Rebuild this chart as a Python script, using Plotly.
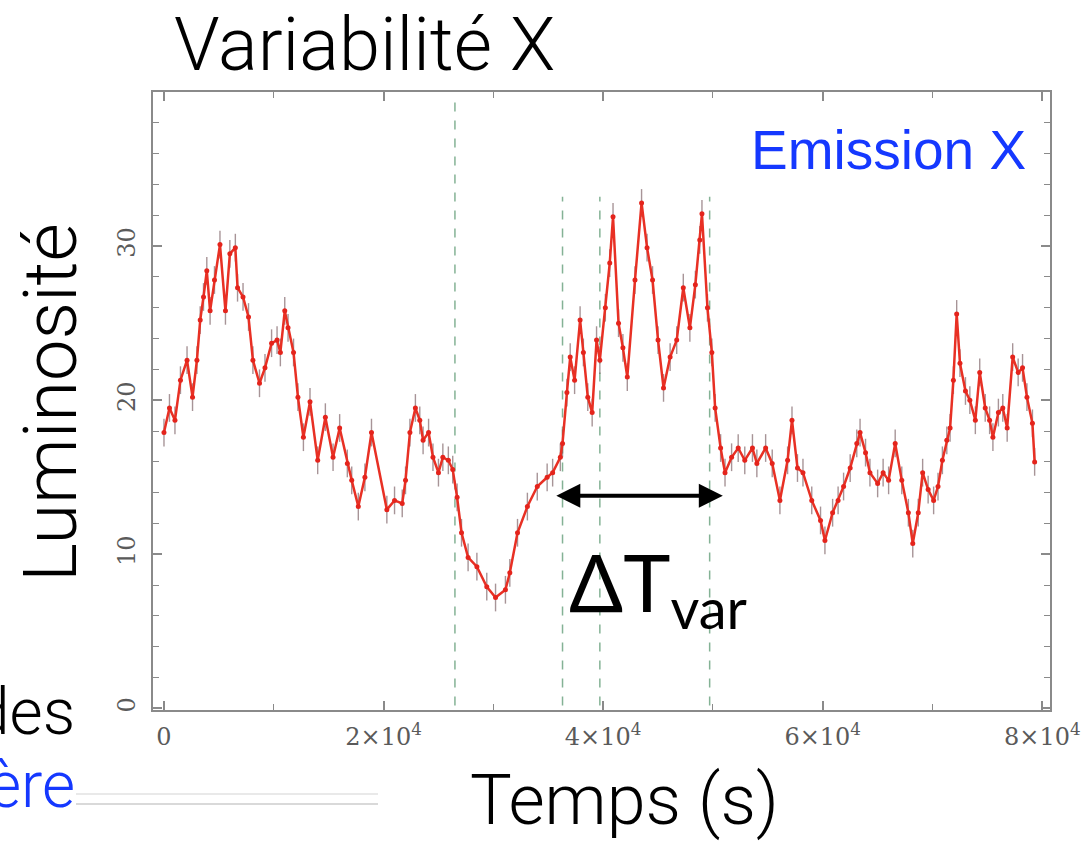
import plotly.graph_objects as go

# ---------------- data ----------------
time_s = [0, 500, 1000, 1500, 2100, 2600, 3000, 3300, 3600, 3900, 4200, 4600, 5100, 5600,
          6000, 6500, 6700, 7200, 7700, 8100, 8700, 9200, 9800, 10300, 10600, 11000, 11300,
          11800, 12200, 12700, 13300, 14000, 14700, 15400, 16000, 16700, 17100, 17700, 18300,
          18900, 20300, 21000, 21700, 22000, 22400, 22900, 23300, 23600, 24100, 24500, 25000,
          25400, 25900, 26300, 26700, 27100, 27700, 28500, 29400, 30200, 31100, 31500, 32200,
          33100, 34000, 34900, 35400, 36100, 36300, 36700, 37000, 37400, 37900, 38200, 38600,
          39000, 39400, 39700, 40200, 40600, 40900, 41400, 41800, 42200, 42900, 43500, 44000,
          44500, 45000, 45500, 46100, 46700, 47300, 47900, 48400, 48800, 49000, 49500, 49900,
          50200, 50700, 51100, 51700, 52300, 52900, 53600, 54000, 54800, 55400, 56100, 56800,
          57200, 57700, 58200, 59000, 59800, 60200, 60900, 61400, 61900, 62500, 63100, 63400,
          63900, 64300, 65000, 65500, 66000, 66600, 67200, 67800, 68200, 68700, 69100, 69600,
          70100, 70500, 70900, 71300, 71600, 71900, 72200, 72500, 73000, 73400, 73900, 74300,
          74800, 75200, 75500, 76000, 76400, 76800, 77300, 77800, 78200, 78600, 79100, 79300]
luminosity = [17.9, 19.5, 18.7, 21.3, 22.6, 20.2, 22.6, 25.2, 26.7, 28.4, 25.8, 27.8, 30.1, 25.8,
              29.5, 29.9, 27.3, 26.7, 25.4, 22.6, 21.1, 22.1, 23.7, 23.9, 23.1, 25.8, 24.7,
              23.1, 20.2, 17.6, 19.9, 16.1, 18.9, 16.3, 18.2, 15.9, 14.8, 13.1, 15.0,
              17.9, 12.9, 13.5, 13.3, 14.8, 17.9, 19.5, 18.7, 17.4, 17.9, 16.3, 15.3,
              16.3, 16.1, 15.5, 13.7, 11.4, 9.8, 9.2, 7.9, 7.2, 7.7, 8.8, 11.4,
              13.1, 14.4, 15.0, 15.3, 16.3, 17.2, 20.5, 22.8, 21.3, 25.2, 23.1, 20.2,
              19.2, 23.9, 22.6, 26.0, 28.9, 31.9, 25.0, 23.4, 21.5, 27.8, 32.8, 29.9,
              27.8, 23.9, 20.8, 22.8, 23.9, 27.3, 24.7, 27.5, 30.4, 32.1, 26.0, 23.1,
              19.5, 16.9, 15.3, 16.3, 16.9, 16.1, 16.9, 15.9, 16.9, 15.9, 13.5, 16.1,
              18.7, 15.6, 15.3, 13.5, 12.2, 10.9, 12.7, 13.5, 14.4, 15.6, 17.2, 17.9,
              16.6, 15.3, 14.6, 15.3, 14.8, 17.2, 14.8, 12.7, 10.7, 12.7, 15.3, 14.2,
              13.5, 14.4, 16.1, 17.4, 18.2, 21.3, 25.6, 22.4, 20.6, 20.0, 18.7, 21.8,
              19.5, 18.7, 17.6, 19.2, 19.5, 18.2, 22.8, 21.8, 22.1, 20.2, 18.5, 16.0]

vline_times = [26500, 36300, 39700, 49700]
vline_tops = [39.5, 33.2, 33.2, 33.2]

arrow_start, arrow_end, arrow_level = 35600, 50900, 13.8

x_tickvals = [0, 20000, 40000, 60000, 80000]
x_ticktext = ["0", "2×10<sup>4</sup>", "4×10<sup>4</sup>", "6×10<sup>4</sup>", "8×10<sup>4</sup>"]
y_tickvals = [0, 10, 20, 30]
y_ticktext = ["0", "10", "20", "30"]

# ---------------- layout helpers ----------------
W, H = 1082, 843
PL, PR, PT, PB = 153, 1050, 92, 710


def px(x):
    return (x - PL) / (PR - PL)


def py(y):
    return (PB - y) / (PB - PT)


LIGHT = dict(family="Roboto, 'Helvetica Neue', Arial, sans-serif", weight=300, color="black")
XTICKFONT = dict(family="DejaVu Serif, serif", size=24, color="#5a5a5a")
YTICKFONT = dict(family="DejaVu Serif, serif", size=24, color="#5a5a5a")
AXCOL = "#8a8a8a"

fig = go.Figure()

fig.add_trace(go.Scatter(
    x=time_s, y=luminosity, mode="lines+markers",
    line=dict(color="rgb(232,48,36)", width=2.5),
    marker=dict(color="rgb(228,36,28)", size=5),
    error_y=dict(type="constant", value=0.9, color="rgba(120,90,95,0.65)", thickness=1.4, width=0),
    showlegend=False, hoverinfo="skip",
))

for t, top in zip(vline_times, vline_tops):
    fig.add_shape(type="line", xref="x", yref="y", x0=t, x1=t, y0=0.2, y1=top,
                  line=dict(color="rgba(110,165,130,0.85)", width=1.5, dash="dash"), layer="below")

fig.add_annotation(x=arrow_end, y=arrow_level, ax=arrow_start, ay=arrow_level,
                   xref="x", yref="y", axref="x", ayref="y", text="",
                   showarrow=True, arrowhead=2, arrowside="end+start",
                   arrowwidth=4, arrowsize=1.2, arrowcolor="black")

fig.add_annotation(x=45000, y=7.9, xref="x", yref="y", text="ΔT<sub>var</sub>",
                   showarrow=False, xanchor="center", yanchor="middle",
                   font=dict(family="Lato, 'Noto Sans', sans-serif", size=80, color="black"))

texts = [
    dict(text="Variabilité X", x=px(364), y=py(45), xanchor="center", size=74, color="black"),
    dict(text="Temps (s)", x=px(624), y=py(800), xanchor="center", size=70, color="black"),
    dict(text="Emission X", x=px(1028), y=py(150), xanchor="right", size=55, color="#1538ff", w=400),
    dict(text="des", x=px(77), y=py(712), xanchor="right", size=64, color="black"),
    dict(text="ère", x=px(77), y=py(785), xanchor="right", size=64, color="#1538ff"),
]
for d in texts:
    f = dict(LIGHT)
    f.update(size=d["size"], color=d["color"])
    if "w" in d:
        f["weight"] = d["w"]
        f["family"] = "'Liberation Sans', Arial, sans-serif"
    fig.add_annotation(text=d["text"], x=d["x"], y=d["y"], xref="paper", yref="paper",
                       xanchor=d["xanchor"], yanchor="middle", showarrow=False, font=f)

fig.add_annotation(text="Luminosité", x=px(50), y=py(403), xref="paper", yref="paper",
                   textangle=-90, showarrow=False, xanchor="center", yanchor="middle",
                   font=dict(LIGHT, size=74))

for yy, col in [(794, "rgba(200,200,200,0.8)"), (804, "rgba(170,170,170,0.9)")]:
    fig.add_shape(type="line", xref="paper", yref="paper", x0=px(76), x1=px(378),
                  y0=py(yy), y1=py(yy), line=dict(color=col, width=1.2))

fig.update_xaxes(range=[-1000, 80700], showline=True, linecolor=AXCOL, linewidth=2, mirror="ticks",
                 ticks="inside", ticklen=9, tickcolor=AXCOL, tickwidth=1.5, automargin=False,
                 tickmode="array", tickvals=x_tickvals, ticktext=x_ticktext,
                 tickfont=XTICKFONT, ticklabelstandoff=4, ticklabeloverflow="allow",
                 minor=dict(tickmode="linear", tick0=0, dtick=10000, ticks="inside", ticklen=6,
                            tickcolor=AXCOL, tickwidth=1.2),
                 showgrid=False, zeroline=False)
fig.update_yaxes(range=[-0.1, 40.0], showline=True, linecolor=AXCOL, linewidth=2, mirror="ticks",
                 ticks="inside", ticklen=9, tickcolor=AXCOL, tickwidth=1.5, automargin=False,
                 tickmode="array", tickvals=y_tickvals, ticktext=y_ticktext,
                 tickfont=YTICKFONT, tickangle=-90, ticklabelstandoff=6, ticklabeloverflow="allow",
                 minor=dict(tickmode="linear", tick0=0, dtick=2, ticks="inside", ticklen=6,
                            tickcolor=AXCOL, tickwidth=1.2),
                 showgrid=False, zeroline=False)

fig.update_layout(width=W, height=H, margin=dict(l=PL, r=W - PR, t=PT, b=H - PB),
                  paper_bgcolor="white", plot_bgcolor="white", showlegend=False)

fig.write_html("out.html")
